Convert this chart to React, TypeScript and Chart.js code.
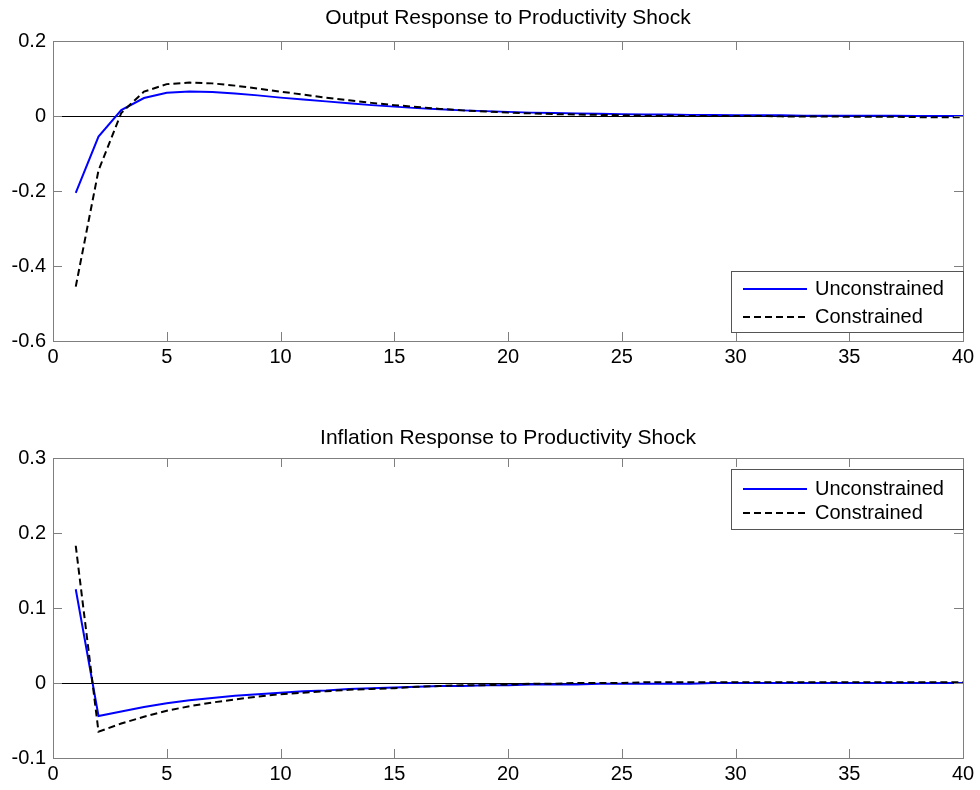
import React, { useEffect, useRef } from "react";
import { Chart, registerables } from "chart.js";

Chart.register(...registerables);

const periods = [1,2,3,4,5,6,7,8,9,10,11,12,13,14,15,16,17,18,19,20,21,22,23,24,25,26,27,28,29,30,31,32,33,34,35,36,37,38,39,40];

const seriesLabels = ["Unconstrained", "Constrained"];

const outputUnconstrained = [-0.205,-0.055,0.016,0.048,0.062,0.065,0.064,0.060,0.055,0.049,0.044,0.039,0.034,0.029,0.025,0.021,0.018,0.015,0.013,0.011,0.009,0.008,0.007,0.006,0.005,0.004,0.004,0.003,0.003,0.002,0.002,0.002,0.001,0.001,0.001,0.001,0.001,0.000,0.000,0.000];
const outputConstrained = [-0.455,-0.145,0.008,0.065,0.085,0.089,0.087,0.081,0.073,0.065,0.057,0.049,0.042,0.035,0.029,0.024,0.019,0.015,0.012,0.009,0.007,0.005,0.004,0.003,0.002,0.001,0.001,0.000,0.000,0.000,0.000,-0.001,-0.001,-0.001,-0.002,-0.002,-0.002,-0.003,-0.003,-0.003];

const inflationUnconstrained = [0.125,-0.044,-0.038,-0.032,-0.027,-0.023,-0.020,-0.017,-0.015,-0.013,-0.011,-0.010,-0.008,-0.007,-0.006,-0.005,-0.004,-0.004,-0.003,-0.003,-0.002,-0.002,-0.002,-0.001,-0.001,-0.001,-0.001,-0.001,0,0,0,0,0,0,0,0,0,0,0,0];
const inflationConstrained = [0.183,-0.065,-0.054,-0.045,-0.037,-0.031,-0.026,-0.022,-0.018,-0.015,-0.013,-0.011,-0.009,-0.008,-0.007,-0.005,-0.004,-0.003,-0.003,-0.002,-0.001,-0.001,0,0,0,0.001,0.001,0.001,0.001,0.001,0.001,0.001,0.001,0.001,0.001,0.001,0.001,0.001,0.001,0.001];

const outputTitle = "Output Response to Productivity Shock";
const inflationTitle = "Inflation Response to Productivity Shock";

const xTicks = [0, 5, 10, 15, 20, 25, 30, 35, 40];
const outputYTicks = [-0.6, -0.4, -0.2, 0, 0.2];
const inflationYTicks = [-0.1, 0, 0.1, 0.2, 0.3];

const FONT = "'Liberation Sans', Arial, Helvetica, sans-serif";
const FRAME = "#7f7f7f";

type PanelCfg = {
  title: string;
  unc: number[];
  con: number[];
  yTicks: number[];
  height: number;
  top: number;
  titleY: number;
  legend: { x: number; y: number; w: number; h: number; rows: number[] };
};

function fmt(v: number) {
  return String(Number(v.toFixed(3)));
}

function makeChart(canvas: HTMLCanvasElement, cfg: PanelCfg) {
  const toPts = (arr: number[]) => periods.map((p, i) => ({ x: p, y: arr[i] }));
  const xAxisH = cfg.height - (cfg.top + 300);
  const decor = {
    id: "matlabDecor",
    afterDatasetsDraw(chart: any) {
      const { ctx, chartArea: a } = chart;
      const xs = chart.scales.x;
      const ys = chart.scales.y;
      ctx.save();
      ctx.strokeStyle = FRAME;
      ctx.lineWidth = 1;
      ctx.strokeRect(Math.round(a.left) + 0.5, Math.round(a.top) + 0.5, Math.round(a.right - a.left), Math.round(a.bottom - a.top));
      ctx.beginPath();
      xTicks.forEach((t) => {
        const px = Math.round(xs.getPixelForValue(t)) + 0.5;
        ctx.moveTo(px, a.bottom);
        ctx.lineTo(px, a.bottom - 9);
        ctx.moveTo(px, a.top);
        ctx.lineTo(px, a.top + 9);
      });
      cfg.yTicks.forEach((t) => {
        const py = Math.round(ys.getPixelForValue(t)) + 0.5;
        ctx.moveTo(a.left, py);
        ctx.lineTo(a.left + 9, py);
        ctx.moveTo(a.right, py);
        ctx.lineTo(a.right - 9, py);
      });
      ctx.stroke();
      ctx.fillStyle = "#000";
      ctx.font = `21px ${FONT}`;
      ctx.textAlign = "center";
      ctx.textBaseline = "middle";
      ctx.fillText(cfg.title, (a.left + a.right) / 2, cfg.titleY);
      const L = cfg.legend;
      ctx.font = `20px ${FONT}`;
      ctx.fillStyle = "#fff";
      ctx.fillRect(L.x, L.y, L.w, L.h);
      ctx.strokeStyle = "#555";
      ctx.lineWidth = 1;
      ctx.strokeRect(L.x + 0.5, L.y + 0.5, L.w, L.h);
      chart.data.datasets.forEach((ds: any, i: number) => {
        const y = L.rows[i];
        ctx.beginPath();
        ctx.strokeStyle = ds.borderColor;
        ctx.lineWidth = ds.borderWidth;
        ctx.setLineDash(ds.borderDash || []);
        ctx.moveTo(L.x + 12, y);
        ctx.lineTo(L.x + 76, y);
        ctx.stroke();
        ctx.setLineDash([]);
        ctx.fillStyle = "#000";
        ctx.textAlign = "left";
        ctx.fillText(ds.label, L.x + 84, y);
      });
      ctx.restore();
    },
  };

  return new Chart(canvas, {
    type: "line",
    data: {
      datasets: [
        {
          label: seriesLabels[0],
          data: toPts(cfg.unc),
          borderColor: "#0000ff",
          borderWidth: 2,
          pointRadius: 0,
          tension: 0,
          order: 1,
        },
        {
          label: seriesLabels[1],
          data: toPts(cfg.con),
          borderColor: "#000000",
          borderWidth: 2,
          borderDash: [7, 4],
          pointRadius: 0,
          tension: 0,
          order: 0,
        },
      ],
    },
    options: {
      animation: false,
      responsive: false,
      devicePixelRatio: 1,
      layout: { padding: { top: cfg.top, left: 0, right: 17, bottom: 0 } },
      plugins: { legend: { display: false }, title: { display: false }, tooltip: { enabled: false } },
      scales: {
        x: {
          type: "linear",
          min: 0,
          max: 40,
          afterBuildTicks: (s: any) => {
            s.ticks = xTicks.map((v) => ({ value: v }));
          },
          afterFit: (s: any) => {
            s.height = xAxisH;
          },
          grid: { display: false, drawTicks: false },
          border: { display: false },
          ticks: {
            color: "#000",
            font: { family: FONT, size: 20 },
            padding: 4,
            maxRotation: 0,
            autoSkip: false,
            callback: (v: any) => fmt(Number(v)),
          },
        },
        y: {
          type: "linear",
          min: cfg.yTicks[0],
          max: cfg.yTicks[cfg.yTicks.length - 1],
          afterBuildTicks: (s: any) => {
            s.ticks = cfg.yTicks.map((v) => ({ value: v }));
          },
          afterFit: (s: any) => {
            s.width = 53;
          },
          grid: {
            drawTicks: false,
            color: (c: any) => (c.tick && Math.abs(c.tick.value) < 1e-9 ? "#000" : "rgba(0,0,0,0)"),
            lineWidth: 1,
          },
          border: { display: false },
          ticks: {
            color: "#000",
            font: { family: FONT, size: 20 },
            padding: 7,
            autoSkip: false,
            callback: (v: any) => fmt(Number(v)),
          },
        },
      },
    },
    plugins: [decor],
  } as any);
}

function Panel({ cfg, top }: { cfg: PanelCfg; top: number }) {
  const ref = useRef<HTMLCanvasElement | null>(null);
  useEffect(() => {
    if (!ref.current) return;
    const chart = makeChart(ref.current, cfg);
    return () => chart.destroy();
  }, []);
  return (
    <canvas
      ref={ref}
      width={980}
      height={cfg.height}
      style={{ position: "absolute", left: 0, top, width: 980, height: cfg.height, display: "block" }}
    />
  );
}

const topCfg: PanelCfg = {
  title: outputTitle,
  unc: outputUnconstrained,
  con: outputConstrained,
  yTicks: outputYTicks,
  height: 380,
  top: 41,
  titleY: 18,
  legend: { x: 731, y: 271, w: 232, h: 61, rows: [289, 317] },
};

const bottomCfg: PanelCfg = {
  title: inflationTitle,
  unc: inflationUnconstrained,
  con: inflationConstrained,
  yTicks: inflationYTicks,
  height: 410,
  top: 78,
  titleY: 58,
  legend: { x: 731, y: 89, w: 232, h: 60, rows: [109, 133] },
};

export default function App() {
  return (
    <div style={{ position: "absolute", left: 0, top: 0, width: 980, height: 790, background: "#fff", overflow: "hidden" }}>
      <Panel cfg={topCfg} top={0} />
      <Panel cfg={bottomCfg} top={380} />
    </div>
  );
}
